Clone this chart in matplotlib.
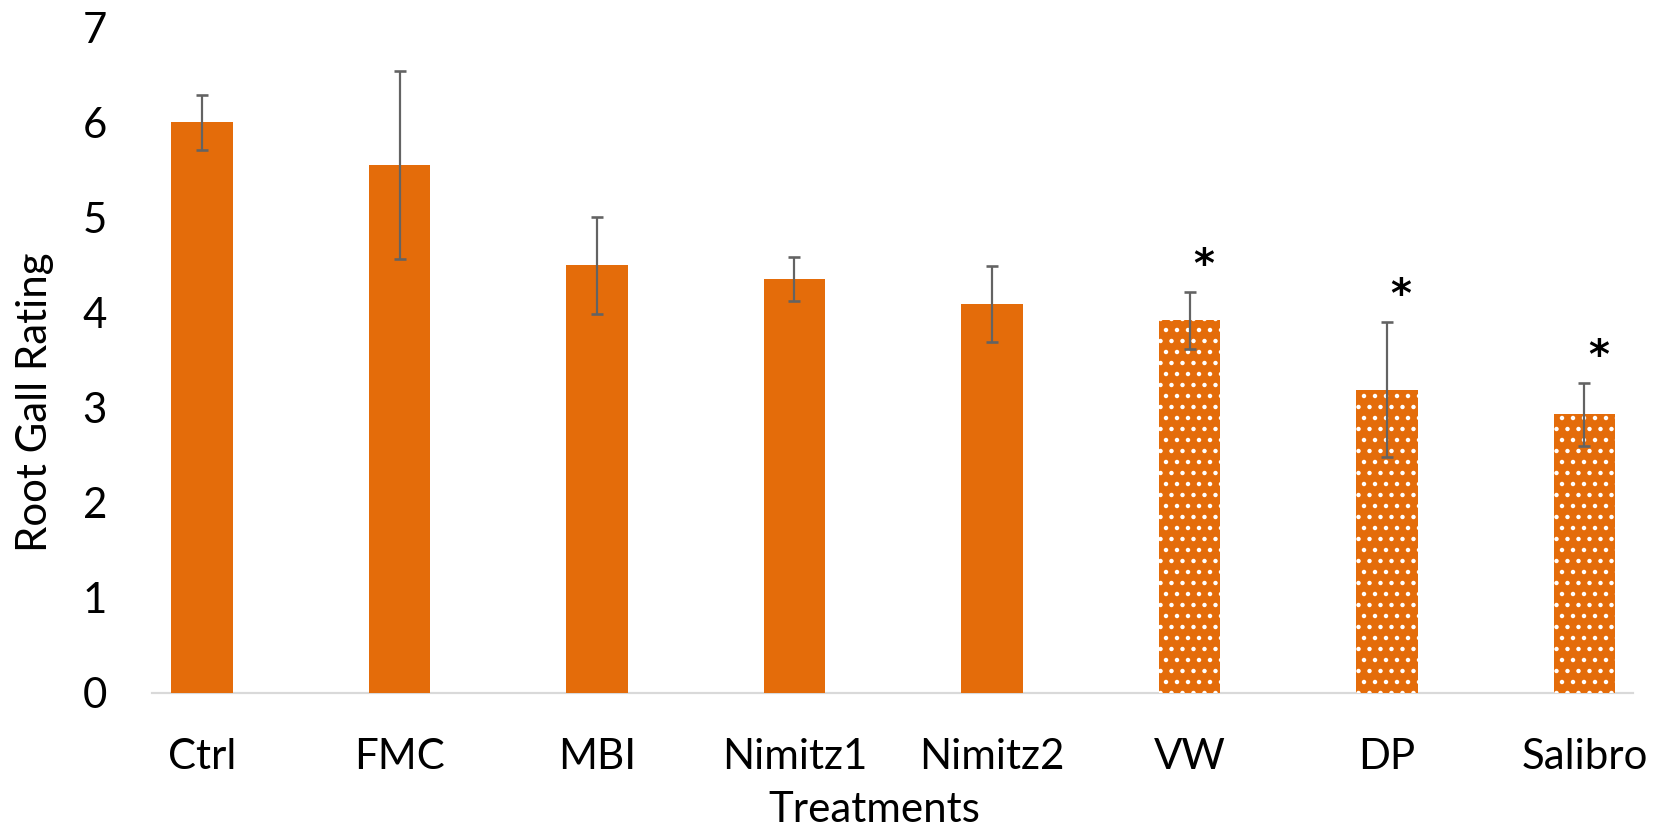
import matplotlib.pyplot as plt
import numpy as np

# data
treatments = ['Ctrl', 'FMC', 'MBI', 'Nimitz1', 'Nimitz2', 'VW', 'DP', 'Salibro']
rating = [6.00, 5.55, 4.50, 4.35, 4.09, 3.92, 3.19, 2.93]
rating_err = [0.29, 0.99, 0.51, 0.23, 0.40, 0.30, 0.71, 0.33]
significant = [False, False, False, False, False, True, True, True]

DPI = 132
px = 72 / DPI   # points per pixel

plt.rcParams['font.family'] = ['Lato', 'DejaVu Sans']
plt.rcParams['hatch.color'] = 'white'
plt.rcParams['hatch.linewidth'] = 2.2 * px

orange = '#E46C0A'

fig = plt.figure(figsize=(1669 / DPI, 826 / DPI), dpi=DPI)
ax = fig.add_axes([152 / 1669, 1 - 693 / 826, (1633 - 152) / 1669, (693 - 27.3) / 826])

x = np.arange(len(treatments))
for i in range(len(treatments)):
    ax.bar(x[i], rating[i], width=0.31, color=orange, linewidth=0,
           hatch='..' if significant[i] else None, zorder=2)

ax.errorbar(x, rating, yerr=rating_err, fmt='none', ecolor='#636363',
            elinewidth=2.2 * px, capsize=6.5 * px, capthick=2.6 * px,
            zorder=3)

#asterisks above significant bars
for i in range(len(treatments)):
    if significant[i]:
        ax.annotate('*', (x[i], rating[i] + rating_err[i]),
                    xytext=(14 * px, 26 * px), textcoords='offset points',
                    ha='center', va='center', fontsize=40 * px,
                    family='DejaVu Sans', fontweight='bold', color='black')

ax.set_ylim(0, 7)
ax.set_xlim(-50 / 197.5, 7 + 48.5 / 197.5)
ax.set_yticks(range(0, 8))
ax.set_xticks(x)
ax.set_xticklabels(treatments)

for s in ['top', 'right', 'left']:
    ax.spines[s].set_visible(False)
ax.spines['bottom'].set_color('#D9D9D9')
ax.spines['bottom'].set_linewidth(2.2 * px)
ax.spines['bottom'].set_zorder(1)

ax.tick_params(axis='both', length=0, labelsize=42 * px, labelcolor='black')
ax.tick_params(axis='x', pad=45 * px)
ax.tick_params(axis='y', pad=45 * px)

ax.set_xlabel('Treatments', fontsize=42 * px)
ax.set_ylabel('Root Gall Rating', fontsize=42 * px)
ax.xaxis.label.set_va('baseline')
ax.yaxis.label.set_va('center')
ax.xaxis.set_label_coords((874 - 152) / 1481, -(822 - 693) / 665.7)
ax.yaxis.set_label_coords((35 - 152) / 1481, (693 - 402) / 665.7)

fig.savefig('out.png', dpi=DPI)
